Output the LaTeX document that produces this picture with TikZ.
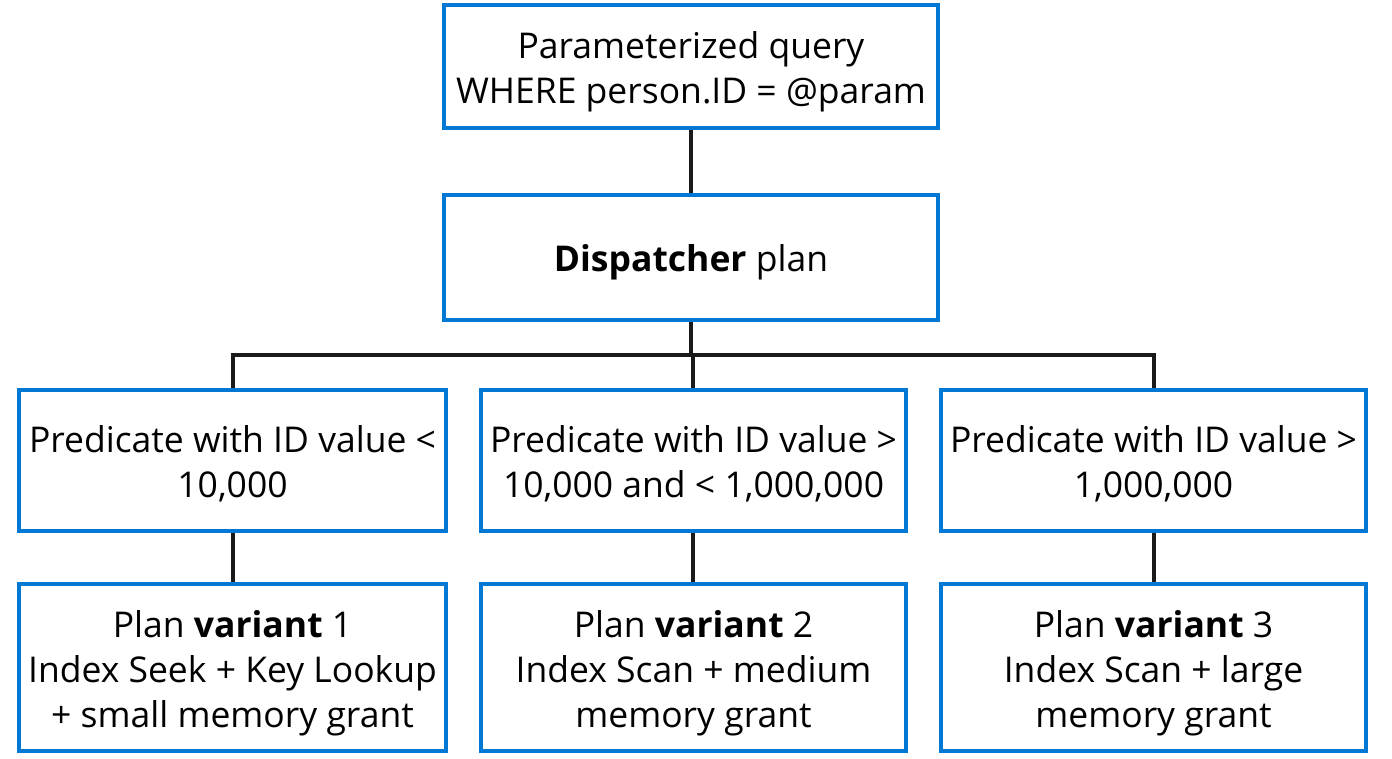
\documentclass[tikz,border=0pt]{standalone}
\usepackage{fontspec}
\setmainfont{Open Sans}
\definecolor{boxblue}{HTML}{0078D4}
\definecolor{linegray}{HTML}{1A1A1A}
\begin{document}
\begin{tikzpicture}[x=1pt,y=-1pt,
  box/.style={draw=boxblue, line width=4pt, fill=white, inner sep=0pt},
  txt/.style={inner sep=0pt, align=center, font=\fontsize{35.5}{45}\selectfont},
  conn/.style={draw=linegray, line width=4pt}]
\useasboundingbox (0,0) rectangle (1392,758);
\node[box, minimum width=494pt, minimum height=123pt] (q) at (691,66.5) {};
\node[box, minimum width=494pt, minimum height=125pt] (d) at (691,257.5) {};
\node[box, minimum width=427pt, minimum height=141pt] (p1) at (232.5,460.5) {};
\node[box, minimum width=425pt, minimum height=141pt] (p2) at (693.5,460.5) {};
\node[box, minimum width=425pt, minimum height=141pt] (p3) at (1153.5,460.5) {};
\node[box, minimum width=427pt, minimum height=167pt] (v1) at (232.5,667.5) {};
\node[box, minimum width=425pt, minimum height=167pt] (v2) at (693.5,667.5) {};
\node[box, minimum width=425pt, minimum height=167pt] (v3) at (1153.5,667.5) {};
\node[txt] (tq) at ([yshift=-5pt]q.center) {Parameterized query\\WHERE person.ID = @param};
\node[txt] (td) at ([yshift=-5pt]d.center) {\textbf{Dispatcher} plan};
\node[txt] (tp1) at ([yshift=-3.5pt]p1.center) {Predicate with ID value <\\10,000};
\node[txt] (tp2) at ([yshift=-3.5pt]p2.center) {Predicate with ID value >\\10,000 and < 1,000,000};
\node[txt] (tp3) at ([yshift=-3.5pt]p3.center) {Predicate with ID value >\\1,000,000};
\node[txt] (tv1) at ([yshift=-5.5pt]v1.center) {Plan \textbf{variant} 1\\Index Seek + Key Lookup\\+ small memory grant};
\node[txt] (tv2) at ([yshift=-5.5pt]v2.center) {Plan \textbf{variant} 2\\Index Scan + medium\\memory grant};
\node[txt] (tv3) at ([yshift=-5.5pt]v3.center) {Plan \textbf{variant} 3\\Index Scan + large\\memory grant};
\coordinate (h) at (691,355);
\coordinate (x1) at (233,0);
\coordinate (x2) at (693,0);
\coordinate (x3) at (1154,0);
\draw[conn] (q.south) -- (d.north);
\draw[conn] (d.south) -- (h);
\draw[conn] (p1.north -| x1) |- (h) -| (p3.north -| x3);
\draw[conn] (h -| x2) -- (p2.north -| x2);
\draw[conn] (p1.south -| x1) -- (v1.north -| x1);
\draw[conn] (p2.south -| x2) -- (v2.north -| x2);
\draw[conn] (p3.south -| x3) -- (v3.north -| x3);
\end{tikzpicture}
\end{document}
